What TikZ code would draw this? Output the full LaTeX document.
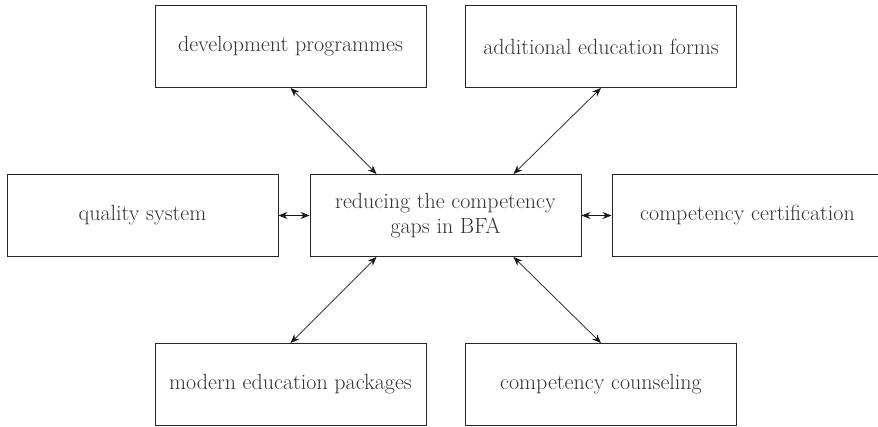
\documentclass[tikz,border=0pt]{standalone}
\usetikzlibrary{arrows.meta}
\begin{document}
\begin{tikzpicture}[x=1pt,y=-1pt,
  box/.style={draw=black!85, line width=0.9pt, minimum width=271pt, minimum height=82pt,
    inner sep=0pt, align=center, text=black!80, font=\fontsize{22}{25}\selectfont},
  link/.style={black!90, line width=0.7pt, {Stealth[length=9pt,width=7pt]}-{Stealth[length=9pt,width=7pt]}}]
\useasboundingbox (0,0) rectangle (878,427);
% outer ring of topics around the central goal
\node[box] (dev)  at (290.5,46.5)  {development programmes};
\node[box] (add)  at (601,46.5)    {additional education forms};
\node[box] (qual) at (142.5,215.5) {quality system};
\node[box] (goal) at (445.5,215.5) {reducing the competency\\gaps in BFA};
\node[box] (cert) at (747.5,215.5) {competency certification};
\node[box] (pack) at (290.5,384.5) {modern education packages};
\node[box] (cons) at (601,384.5)   {competency counseling};
% attachment points on the goal box
\coordinate (gnw) at ([xshift=67pt]goal.north west);
\coordinate (gne) at ([xshift=-68pt]goal.north east);
\coordinate (gsw) at ([xshift=67pt]goal.south west);
\coordinate (gse) at ([xshift=-68pt]goal.south east);
% two-way links to the goal
\draw[link] (dev.south) -- (gnw);
\draw[link] (add.south) -- (gne);
\draw[link] (qual.east) -- (goal.west);
\draw[link] (goal.east) -- (cert.west);
\draw[link] (gsw) -- (pack.north);
\draw[link] (gse) -- (cons.north);
\end{tikzpicture}
\end{document}
